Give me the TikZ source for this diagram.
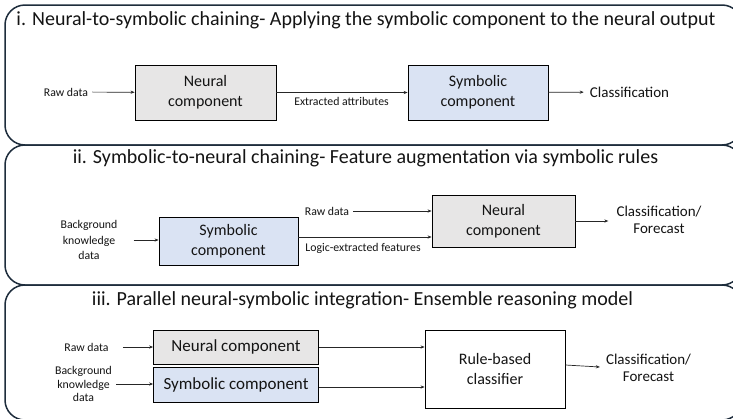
\documentclass[tikz,border=0pt]{standalone}
\usepackage{fontspec}
\setmainfont{Carlito}
\usetikzlibrary{arrows.meta}
\definecolor{panelc}{RGB}{30,45,60}
\definecolor{grayfill}{RGB}{231,230,230}
\definecolor{bluefill}{RGB}{218,227,243}
\definecolor{txt}{RGB}{20,20,20}
\tikzset{
  panel/.style={draw=panelc, line width=1.5pt, rounded corners=20pt},
  titletext/.style={font=\fontsize{20}{24}\selectfont, text=txt, inner sep=0pt},
  boxg/.style={draw=black, line width=0.8pt, fill=grayfill, align=center, inner sep=0pt,
     font=\fontsize{16}{20}\selectfont, text=txt},
  boxb/.style={boxg, fill=bluefill},
  boxw/.style={boxg, fill=white},
  small/.style={font=\fontsize{11.8}{15.5}\selectfont, align=center, inner xsep=4pt, inner ysep=0pt, text=txt},
  outtxt/.style={font=\fontsize{15}{17}\selectfont, align=center, inner xsep=6pt, inner ysep=0pt, text=txt},
  arr/.style={draw=black!85, line width=0.7pt, -{Stealth[length=4pt,width=3.2pt]}}
}
\begin{document}
\begin{tikzpicture}[x=1pt,y=-1pt]
\useasboundingbox (0,0) rectangle (733,418);
\fill[white] (0,0) rectangle (733,418);
% panels
\draw[panel] (5,5) rectangle (742,145);
\draw[panel] (5,145) rectangle (742,285);
\draw[panel] (5,285) rectangle (742,420);

% panel 1
\node[titletext] (title1) at (366,20) {i. Neural-to-symbolic chaining- Applying the symbolic component to the neural output};
\node[small] (raw1) at (66,92) {Raw data};
\node[boxg, minimum width=141pt, minimum height=55pt] (neu1) at (205.5,92.5) {Neural\\component};
\node[boxb, minimum width=140pt, minimum height=55pt] (sym1) at (478,92.5) {Symbolic\\component};
\node[small, inner sep=0pt] (ext1) at (341.5,101) {Extracted attributes};
\node[outtxt] (cls1) at (629.5,92) {Classification};
\draw[arr] (raw1) -- (neu1);
\draw[arr] (neu1) -- (sym1);
\draw[arr] (sym1) -- (cls1);

% panel 2
\node[titletext] (title2) at (365.5,158) {ii. Symbolic-to-neural chaining- Feature augmentation via symbolic rules};
\node[small] (bg2) at (89,240) {Background\\knowledge\\data};
\node[boxb, minimum width=139pt, minimum height=48pt] (sym2) at (228.5,241) {Symbolic\\component};
\node[small] (raw2) at (327,211) {Raw data};
\node[boxg, minimum width=143pt, minimum height=52pt] (neu2) at (503.5,221) {Neural\\component};
\node[small, inner sep=0pt] (log2) at (363,248) {Logic-extracted features};
\node[outtxt, inner xsep=8pt] (cls2) at (659,219.5) {Classification/\\Forecast};
\draw[arr, shorten <=12pt] (bg2) -- (bg2 -| sym2.west);
\draw[arr] (raw2.east) -- (raw2.east -| neu2.west);
\draw[arr] (sym2.east |- 0,237) -- (neu2.west |- 0,237);
\draw[arr] (neu2) -- (neu2 -| cls2.west);

% panel 3
\node[titletext] (title3) at (362.5,300) {iii. Parallel neural-symbolic integration- Ensemble reasoning model};
\node[small] (raw3) at (86.5,347) {Raw data};
\node[small, font=\fontsize{11.8}{13.5}\selectfont] (bg3) at (83.5,384) {Background\\knowledge\\data};
\node[boxg, minimum width=165pt, minimum height=34pt, font=\fontsize{17}{20}\selectfont] (neu3) at (236,347) {Neural component};
\node[boxb, minimum width=165pt, minimum height=35pt, font=\fontsize{17}{20}\selectfont] (sym3) at (236,384.5) {Symbolic component};
\node[boxw, minimum width=140pt, minimum height=78pt] (rule3) at (495,369) {Rule-based\\classifier};
\node[outtxt] (cls3) at (648.5,367.5) {Classification/\\Forecast};
\draw[arr, shorten <=10pt] (raw3) -- (neu3);
\draw[arr] (bg3) -- (bg3 -| sym3.west);
\draw[arr] (neu3) -- (neu3 -| rule3.west);
\draw[arr] (sym3.east |- 0,387) -- (rule3.west |- 0,387);
\draw[arr] (rule3.east |- 0,365) -- (cls3.west |- 0,367);
\end{tikzpicture}
\end{document}
